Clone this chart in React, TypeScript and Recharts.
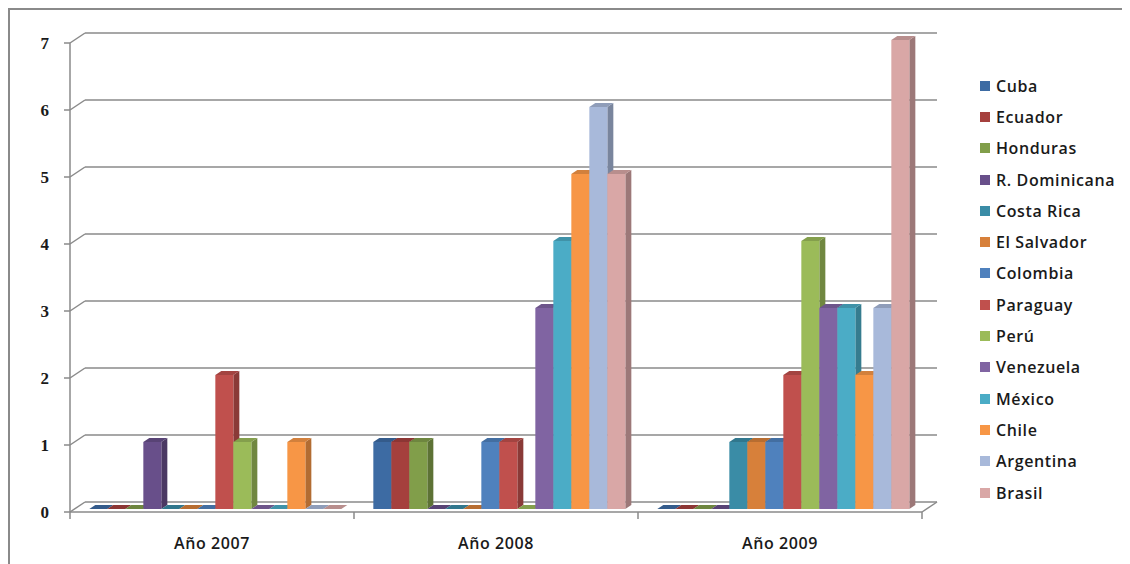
import React from 'react';
import { BarChart, Bar, XAxis, YAxis, CartesianGrid, Legend, ReferenceLine } from 'recharts';

const categories = ['Año 2007', 'Año 2008', 'Año 2009'];
const countries = [
  'Cuba', 'Ecuador', 'Honduras', 'R. Dominicana', 'Costa Rica', 'El Salvador', 'Colombia',
  'Paraguay', 'Perú', 'Venezuela', 'México', 'Chile', 'Argentina', 'Brasil',
];
const cuba = [0, 1, 0];
const ecuador = [0, 1, 0];
const honduras = [0, 1, 0];
const rDominicana = [1, 0, 0];
const costaRica = [0, 0, 1];
const elSalvador = [0, 0, 1];
const colombia = [0, 1, 1];
const paraguay = [2, 1, 2];
const peru = [1, 0, 4];
const venezuela = [0, 3, 3];
const mexico = [0, 4, 3];
const chile = [1, 5, 2];
const argentina = [0, 6, 3];
const brasil = [0, 5, 7];
const yTicks = [0, 1, 2, 3, 4, 5, 6, 7];

const colors = [
  '#3D6BA3', '#A5403D', '#819E4A', '#684F8A', '#3A8CA6', '#D7803A', '#4F81BD',
  '#C0504D', '#9BBB59', '#8064A2', '#4BACC6', '#F79646', '#A8B9DA', '#D9A7A6',
];

const seriesValues = [
  cuba, ecuador, honduras, rDominicana, costaRica, elSalvador, colombia,
  paraguay, peru, venezuela, mexico, chile, argentina, brasil,
];

const data = categories.map((c, i) => {
  const row: Record<string, any> = { category: c };
  seriesValues.forEach((s, j) => {
    row['s' + j] = s[i];
  });
  return row;
});

const FONT = '"Open Sans", "Liberation Sans", sans-serif';
const GRID = '#8a8a8a';
const DX = 6;
const DY = 4;
const SX = 4;
const SY = -3;

function shade(hex: string, f: number) {
  const n = parseInt(hex.slice(1), 16);
  const r = Math.round(((n >> 16) & 255) * f);
  const g = Math.round(((n >> 8) & 255) * f);
  const b = Math.round((n & 255) * f);
  return `rgb(${r},${g},${b})`;
}

function Bar3D(props: any) {
  const { x, y, width, height, fill } = props;
  if (x == null || y == null) return null;
  const x0 = x + SX;
  const y0 = y + SY;
  const w = width;
  const h = Math.max(0, height);
  const side = `${x0 + w},${y0} ${x0 + w + DX},${y0 - DY} ${x0 + w + DX},${y0 + h - DY} ${x0 + w},${y0 + h}`;
  const top = `${x0},${y0} ${x0 + DX},${y0 - DY} ${x0 + w + DX},${y0 - DY} ${x0 + w},${y0}`;
  return (
    <g>
      {h > 0 && <polygon points={side} fill={shade(fill, 0.72)} />}
      <polygon points={top} fill={shade(fill, 0.85)} />
      {h > 0 && <rect x={x0} y={y0} width={w} height={h} fill={fill} />}
    </g>
  );
}

function gridLine(p: any) {
  return (
    <g key={`h-${p.index}-${p.y1}`}>
      <line x1={p.x1} y1={p.y1} x2={p.x1 + 15} y2={p.y1 - 10} stroke={GRID} strokeWidth={1.5} />
      <line x1={p.x1 + 15} y1={p.y1 - 10} x2={p.x2 + 15} y2={p.y1 - 10} stroke={GRID} strokeWidth={1.5} />
    </g>
  );
}

function floorShape(p: any) {
  const x2 = Math.max(p.x1, p.x2);
  const y = p.y1;
  return <line x1={x2} y1={y} x2={x2 + 15} y2={y - 10} stroke={GRID} strokeWidth={1.5} />;
}

function XTick(props: any) {
  const { x, y, payload } = props;
  const off = payload.offset || 0;
  return (
    <g>
      {payload.index === 0 && (
        <line x1={x - off} y1={y} x2={x - off} y2={y + 7} stroke={GRID} strokeWidth={1.5} />
      )}
      <line x1={x + off} y1={y} x2={x + off} y2={y + 7} stroke={GRID} strokeWidth={1.5} />
      <text
        x={x}
        y={y + 31}
        textAnchor="middle"
        dominantBaseline="central"
        fontFamily={FONT}
        fontWeight={600}
        fontSize={16}
        letterSpacing={0.6}
        fill="#1a1a1a"
      >
        {payload.value}
      </text>
    </g>
  );
}

function YTick(props: any) {
  const { x, y, payload } = props;
  return (
    <text
      x={x}
      y={y}
      textAnchor="end"
      dominantBaseline="central"
      fontFamily='"Liberation Serif", "DejaVu Serif", serif'
      fontWeight={700}
      fontSize={17}
      fill="#1a1a1a"
    >
      {payload.value}
    </text>
  );
}

function LegendContent(props: any) {
  const payload = [...(props.payload || [])].sort(
    (a: any, b: any) => countries.indexOf(a.value) - countries.indexOf(b.value)
  );
  return (
    <div style={{ fontFamily: FONT, fontWeight: 600, fontSize: 16, letterSpacing: 0.6, color: '#1a1a1a' }}>
      {payload.map((item: any, i: number) => (
        <div key={i} style={{ height: 31.3, display: 'flex', alignItems: 'center', whiteSpace: 'nowrap' }}>
          <span style={{ display: 'inline-block', width: 10, height: 10, background: item.color, marginRight: 6 }} />
          <span>{item.value}</span>
        </div>
      ))}
    </div>
  );
}

export default function App() {
  return (
    <div
      style={{
        width: 1120,
        height: 554,
        borderTop: '2px solid #8a8a8a',
        borderLeft: '2px solid #8a8a8a',
        background: '#fff',
      }}
    >
      <BarChart
        width={1120}
        height={554}
        data={data}
        margin={{ top: 33, right: 58, bottom: 22, left: 10 }}
        barCategoryGap="5.4%"
        barGap={0}
      >
        <CartesianGrid horizontal={gridLine} vertical={false} />
        <XAxis
          dataKey="category"
          axisLine={{ stroke: GRID, strokeWidth: 1.5 }}
          tickLine={false}
          tickSize={0}
          tickMargin={0}
          height={30}
          interval={0}
          tick={<XTick />}
        />
        <YAxis
          domain={[0, 7]}
          ticks={yTicks}
          interval={0}
          width={50}
          axisLine={{ stroke: GRID, strokeWidth: 1.5 }}
          tickLine={{ stroke: GRID, strokeWidth: 1.5 }}
          tickSize={6}
          tickMargin={15}
          tick={<YTick />}
        />
        <ReferenceLine y={0} shape={floorShape} />
        {countries.map((name, j) => (
          <Bar
            key={name}
            dataKey={'s' + j}
            name={name}
            fill={colors[j]}
            isAnimationActive={false}
            shape={(p: any) => <Bar3D {...p} fill={colors[j]} />}
          />
        ))}
        <Legend
          layout="vertical"
          align="right"
          verticalAlign="top"
          width={150}
          itemSorter={null as any}
          wrapperStyle={{ left: 970, top: 60, width: 150 }}
          content={<LegendContent />}
        />
      </BarChart>
    </div>
  );
}
